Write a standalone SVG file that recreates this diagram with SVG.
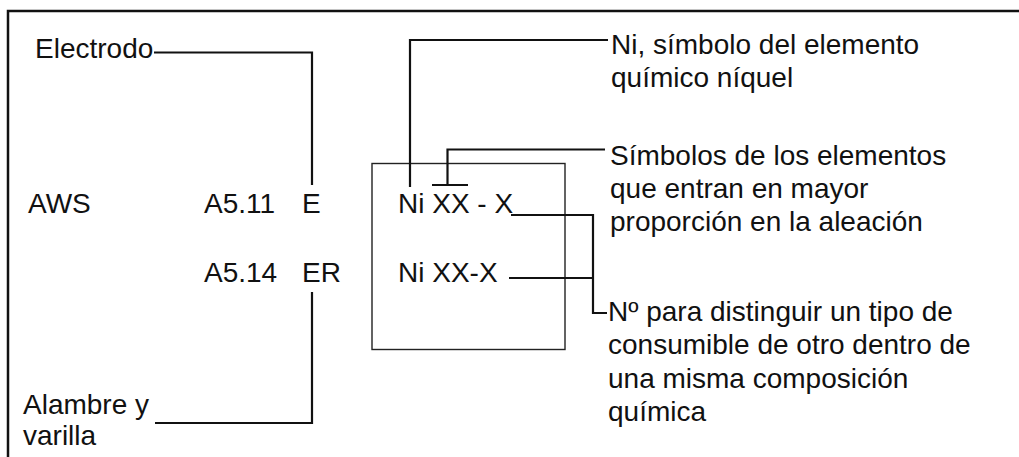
<svg xmlns="http://www.w3.org/2000/svg" width="1019" height="457" viewBox="0 0 1019 457">
<style>
text{font-family:"Liberation Sans",Arial,sans-serif;font-size:28px;fill:#111;}
.ln{fill:none;stroke:#111;stroke-width:2.2;}
.frame{fill:none;stroke:#111;stroke-width:2.5;}
.box{fill:none;stroke:#222;stroke-width:1.4;}
</style>
<rect width="1019" height="457" fill="#fff"/>
<g id="frame"><path class="frame" d="M8,457 V11 H1019"/></g>
<g id="code-box"><rect class="box" x="372" y="163.5" width="193" height="186"/></g>
<g id="electrodo"><text x="35" y="58">Electrodo</text></g>
<g id="aws"><text x="28" y="212.5">AWS</text></g>
<g id="a511"><text x="204" y="213">A5.11</text><text x="302" y="213">E</text></g>
<g id="a514"><text x="204" y="282">A5.14</text><text x="302" y="282">ER</text></g>
<g id="alambre"><text x="23" y="414">Alambre y</text><text x="23" y="445">varilla</text></g>
<g id="code-e"><text x="398" y="213">Ni XX - X</text></g>
<g id="code-er"><text x="398" y="282">Ni XX-X</text></g>
<g id="note-ni"><text x="611" y="54">Ni, símbolo del elemento</text><text x="611" y="86.5">químico níquel</text></g>
<g id="note-simbolos"><text x="610" y="164.5">Símbolos de los elementos</text><text x="610" y="197.5">que entran en mayor</text><text x="610" y="230.5">proporción en la aleación</text></g>
<g id="note-numero"><text x="608" y="320.5">Nº para distinguir un tipo de</text><text x="608" y="354">consumible de otro dentro de</text><text x="608" y="387.5">una misma composición</text><text x="608" y="421">química</text></g>
<g id="connectors">
<path class="ln" d="M154,52.5 H312 V185"/>
<path class="ln" d="M312,292 V423 H155"/>
<path class="ln" d="M410,187 V40 H608"/>
<path class="ln" d="M432,185 H468 M447.5,185 V149.5 H605"/>
<path class="ln" d="M511,215 H593 V313 H607"/>
<path class="ln" d="M509,278 H593"/>
</g>
</svg>
